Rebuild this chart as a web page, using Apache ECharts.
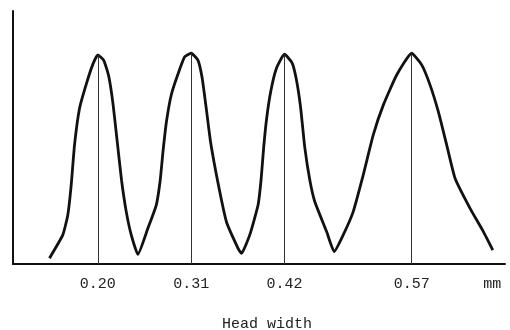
<!DOCTYPE html>
<html>
<head>
<meta charset="utf-8">
<script src="https://cdn.jsdelivr.net/npm/echarts@6/dist/echarts.min.js"></script>
<style>
html,body{margin:0;padding:0;background:#fff;}
#chart{width:510px;height:330px;}
</style>
</head>
<body>
<div id="chart"></div>
<script>
// Head width (mm) distribution curve
const curveX = [
  0.143, 0.1587, 0.1646, 0.1686, 0.1725, 0.1784, 0.1863, 0.1941, 0.200,
  0.2070, 0.2130, 0.2180, 0.2230, 0.2280, 0.2335, 0.2394, 0.2472,
  0.2590, 0.2689, 0.2735, 0.2770, 0.2810, 0.2867, 0.2944, 0.3024, 0.310,
  0.3181, 0.3230, 0.3280, 0.3330, 0.3417, 0.3516, 0.3653, 0.3693,
  0.3791, 0.3889, 0.3925, 0.3955, 0.3990, 0.4040, 0.4106, 0.420,
  0.4290, 0.4340, 0.4390, 0.4440, 0.4500, 0.4558, 0.4697, 0.4786,
  0.4893, 0.5011, 0.5129, 0.5247, 0.5365, 0.5523, 0.570,
  0.5818, 0.5916, 0.6014, 0.6113, 0.6211, 0.6388, 0.6545, 0.6656
];
const curveY = [
  2.3, 11.5, 19.4, 31.2, 47.0, 61.5, 71.0, 78.9, 82.6,
  80.5, 74.0, 63.0, 48.0, 33.0, 20.7, 11.5, 3.8,
  14.1, 23.3, 33.0, 45.0, 56.5, 67.0, 75.0, 81.9, 83.3,
  80.5, 73.5, 61.0, 48.0, 32.0, 16.7, 6.2, 4.2,
  11.5, 23.3, 33.5, 46.0, 57.5, 68.5, 77.4, 82.9,
  79.5, 73.0, 62.0, 46.0, 33.0, 24.6, 12.8, 4.9,
  11.5, 20.7, 35.2, 51.0, 62.8, 74.7, 83.3,
  78.7, 70.8, 60.2, 47.0, 33.9, 22.0, 12.8, 5.5
];
// peaks marked by thin vertical lines
const peakX = [0.20, 0.31, 0.42, 0.57];
const peakY = [82.6, 83.3, 82.9, 83.3];
// tick labels on the x axis
const tickValues = [0.20, 0.31, 0.42, 0.57];
const tickLabels = ['0.20', '0.31', '0.42', '0.57'];
const unitValue = 0.665;
const unitLabel = 'mm';
const axisTitle = 'Head width';

const labelMap = {};
tickValues.forEach((v, i) => { labelMap[v.toFixed(3)] = tickLabels[i]; });
labelMap[unitValue.toFixed(3)] = unitLabel;

const chart = echarts.init(document.getElementById('chart'));
chart.setOption({
  animation: false,
  backgroundColor: '#ffffff',
  grid: { left: 13, right: 5, top: 11, bottom: 66, containLabel: false, outerBoundsMode: 'none' },
  xAxis: {
    type: 'value',
    min: 0.10,
    max: 0.68,
    interval: 0.005,
    name: axisTitle,
    nameLocation: 'middle',
    nameGap: 53,
    nameTextStyle: { fontFamily: 'Liberation Mono', fontSize: 15, color: '#222', padding: [0, 0, 0, 16] },
    axisLine: { show: true, lineStyle: { color: '#111', width: 2 } },
    axisTick: { show: false },
    splitLine: { show: false },
    axisLabel: {
      show: true,
      interval: 0,
      margin: 13,
      fontFamily: 'Liberation Mono',
      fontSize: 15,
      color: '#222',
      formatter: v => labelMap[Number(v).toFixed(3)] || ''
    }
  },
  yAxis: {
    type: 'value',
    min: 0,
    max: 100,
    axisLine: { show: true, lineStyle: { color: '#111', width: 2 } },
    axisTick: { show: false },
    axisLabel: { show: false },
    splitLine: { show: false }
  },
  series: [{
    type: 'line',
    data: curveX.map((x, i) => [x, curveY[i]]),
    smooth: 0.15,
    symbol: 'none',
    lineStyle: { color: '#111', width: 2.8 },
    markLine: {
      silent: true,
      symbol: 'none',
      label: { show: false },
      lineStyle: { color: '#333', width: 1, type: 'solid' },
      data: peakX.map((x, i) => [{ coord: [x, 0] }, { coord: [x, peakY[i]] }])
    }
  }]
});
</script>
</body>
</html>
